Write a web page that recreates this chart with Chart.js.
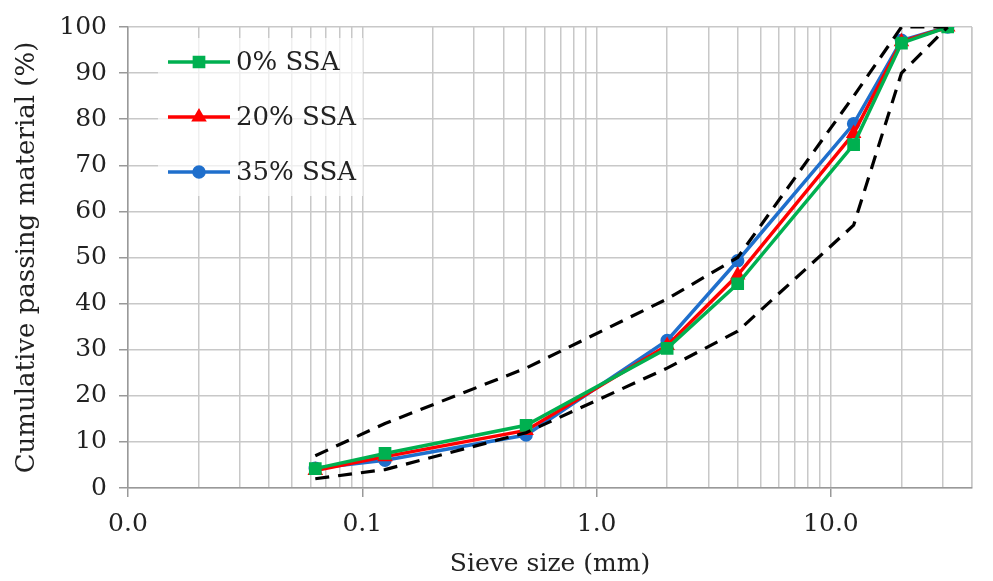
<!DOCTYPE html>
<html>
<head>
<meta charset="utf-8">
<script src="https://cdn.jsdelivr.net/npm/chart.js@4"></script>
<style>
  html, body { margin: 0; padding: 0; background: #fff; }
  #wrap { width: 993px; height: 581px; }
</style>
</head>
<body>
<div id="wrap"><canvas id="gradChart" width="993" height="581"></canvas></div>
<script>
// sieve sizes (mm)
const sizes = [0.063, 0.125, 0.5, 2, 4, 12.5, 20, 31.5];
// cumulative passing (%)
const ssa0 = [4.2, 7.5, 13.6, 30.3, 44.3, 74.5, 96.5, 100];
const ssa20 = [3.8, 6.8, 12.5, 30.9, 46.2, 76.9, 96.8, 100];
const ssa35 = [4.3, 6.0, 11.5, 32.0, 49.3, 79.0, 97.1, 100];
// grading envelope
const upperLimit = [7, 14, 26, 41, 50, 85, 100, 100];
const lowerLimit = [2, 4, 12, 26, 34, 57, 90, 100];
// x ticks
const xTicks = [];
[0.01, 0.1, 1, 10].forEach(d => {
  for (let k = 1; k <= 9; k++) {
    const v = +(d * k).toPrecision(3);
    if (v <= 40) xTicks.push(v);
  }
});
xTicks.push(40);
const decades = [0.01, 0.1, 1, 10];

const serif = "'DejaVu Serif', serif";
const pts = arr => sizes.map((s, i) => ({ x: s, y: arr[i] }));

const series = [
  { label: '0% SSA', data: ssa0, color: '#00b050', style: 'rect', radius: 6.5 },
  { label: '20% SSA', data: ssa20, color: '#ff0000', style: 'triangle', radius: 5.5 },
  { label: '35% SSA', data: ssa35, color: '#1f6fcc', style: 'circle', radius: 5 }
];

// legend inside the plot, top-left
const innerLegend = {
  id: 'innerLegend',
  afterDatasetsDraw(chart) {
    const c = chart.ctx;
    c.save();
    c.fillStyle = 'rgba(255,255,255,0.7)';
    c.fillRect(158, 38, 205, 158);
    const rows = [62, 117, 172];
    series.forEach((s, i) => {
      const y = rows[i];
      c.strokeStyle = s.color;
      c.lineWidth = 3.5;
      c.setLineDash([]);
      c.beginPath();
      c.moveTo(168, y);
      c.lineTo(230, y);
      c.stroke();
      c.fillStyle = s.color;
      Chart.helpers.drawPoint(c, { pointStyle: s.style, radius: s.radius, borderWidth: 1 }, 199, y);
      c.fillStyle = '#222';
      c.font = '26px ' + serif;
      c.textBaseline = 'middle';
      c.fillText(s.label, 236, y + 1);
    });
    c.restore();
  }
};

const datasets = [
  {
    data: pts(upperLimit), borderColor: '#000', borderWidth: 3.2,
    borderDash: [14, 9], pointRadius: 0, fill: false, tension: 0
  },
  {
    data: pts(lowerLimit), borderColor: '#000', borderWidth: 3.2,
    borderDash: [14, 9], pointRadius: 0, fill: false, tension: 0
  }
];
series.forEach(s => {
  datasets.push({
    label: s.label, data: pts(s.data), borderColor: s.color, backgroundColor: s.color,
    borderWidth: 3.5, pointStyle: s.style, pointRadius: s.radius,
    pointBorderColor: s.color, pointBackgroundColor: s.color, tension: 0
  });
});

const ctx = document.getElementById('gradChart').getContext('2d');
new Chart(ctx, {
  type: 'line',
  data: { datasets },
  plugins: [innerLegend],
  options: {
    responsive: false,
    animation: false,
    layout: { padding: { left: 0, right: 21, top: 25, bottom: 0 } },
    plugins: { legend: { display: false }, tooltip: { enabled: false } },
    scales: {
      x: {
        type: 'logarithmic',
        min: 0.01,
        max: 40,
        afterBuildTicks: scale => { scale.ticks = xTicks.map(v => ({ value: v })); },
        afterFit: scale => { scale.height = 93; },
        ticks: {
          autoSkip: false, maxRotation: 0, padding: 12,
          color: '#222', font: { family: serif, size: 25 },
          callback: v => decades.includes(v) ? v.toFixed(1) : ''
        },
        grid: {
          color: '#c8c8c8', lineWidth: 1.5, tickLength: 9,
          tickColor: c => decades.includes(c.tick.value) ? '#999' : 'rgba(0,0,0,0)'
        },
        border: { color: '#999', width: 1.5 },
        title: {
          display: true, text: 'Sieve size (mm)', color: '#222',
          font: { family: serif, size: 25 }, padding: { top: 0, bottom: 2 }
        }
      },
      y: {
        min: 0, max: 100,
        afterFit: scale => { scale.width = 128; },
        ticks: {
          stepSize: 10, padding: 12, color: '#222',
          font: { family: serif, size: 25 }
        },
        grid: { color: '#c8c8c8', lineWidth: 1.5, tickLength: 9, tickColor: '#999' },
        border: { color: '#999', width: 1.5 },
        title: {
          display: true, text: 'Cumulative passing material (%)', color: '#222',
          font: { family: serif, size: 26 }, padding: { top: 12, bottom: 0 }
        }
      }
    }
  }
});
</script>
</body>
</html>
